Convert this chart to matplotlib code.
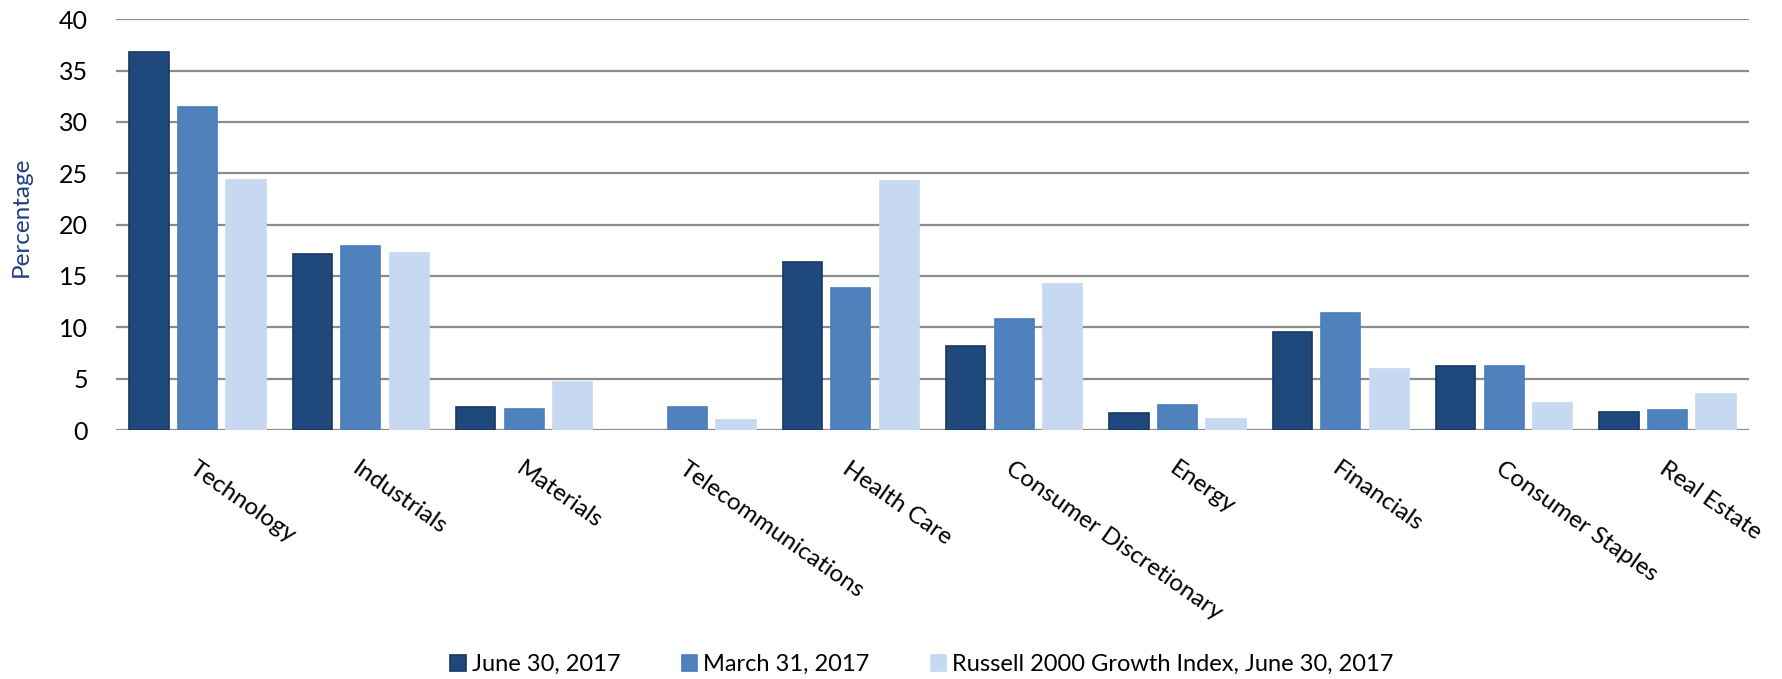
import matplotlib
matplotlib.use("Agg")
import matplotlib.pyplot as plt
import numpy as np

categories = ["Technology", "Industrials", "Materials", "Telecommunications", "Health Care",
              "Consumer Discretionary", "Energy", "Financials", "Consumer Staples", "Real Estate"]
june_2017 = [36.8, 17.1, 2.2, 0.0, 16.4, 8.2, 1.7, 9.5, 6.2, 1.75]
march_2017 = [31.5, 17.9, 2.0, 2.2, 13.8, 10.8, 2.4, 11.4, 6.2, 1.95]
russell_2017 = [24.3, 17.2, 4.7, 1.0, 24.2, 14.2, 1.1, 5.9, 2.6, 3.5]
series_names = ["June 30, 2017", "March 31, 2017", "Russell 2000 Growth Index, June 30, 2017"]
yticks = [0, 5, 10, 15, 20, 25, 30, 35, 40]

plt.rcParams['font.family'] = ['Lato', 'DejaVu Sans']

fig = plt.figure(figsize=(17.83, 6.79), dpi=100)
ax = fig.add_axes([0.065, 0.3667, 0.916, 0.605])

x = np.arange(len(categories))
step = 0.297
width = 0.24
colors = ["#1F497D", "#4F81BD", "#C6D9F0"]
edges = ["#17375E", "#4A7EBB", "#C6D9F0"]
for i, (vals, name) in enumerate(zip([june_2017, march_2017, russell_2017], series_names)):
    lws = [1.2 if v > 0 else 0 for v in vals]
    ax.bar(x + (i - 1) * step, vals, width, color=colors[i], edgecolor=edges[i],
           linewidth=lws, label=name, zorder=3)

ax.set_xlim(-0.5, len(categories) - 0.5)
ax.set_ylim(0, 40)
ax.set_yticks(yticks)
ax.yaxis.grid(True, color="#8C8C8C", linewidth=1.6, zorder=0)
ax.set_axisbelow(True)
for s in ax.spines.values():
    s.set_visible(False)
ax.tick_params(axis='y', length=0, labelsize=18, pad=20, labelcolor="#000000")
ax.tick_params(axis='x', length=0, pad=20)
ax.set_xticks(x)
ax.set_xticklabels(categories, rotation=-35, ha='left', va='top', rotation_mode='anchor',
                   fontsize=17.5)
ax.set_ylabel("Percentage", color="#1F3F7F", fontsize=17.5)
ax.yaxis.set_label_coords(-0.0518, 0.52)

leg = fig.legend(loc='center', bbox_to_anchor=(0.517, 0.021), ncol=3, frameon=False,
                 fontsize=17, handlelength=0.65, handleheight=0.65, handletextpad=0.25,
                 columnspacing=2.6)

fig.savefig("out.png", dpi=100)
